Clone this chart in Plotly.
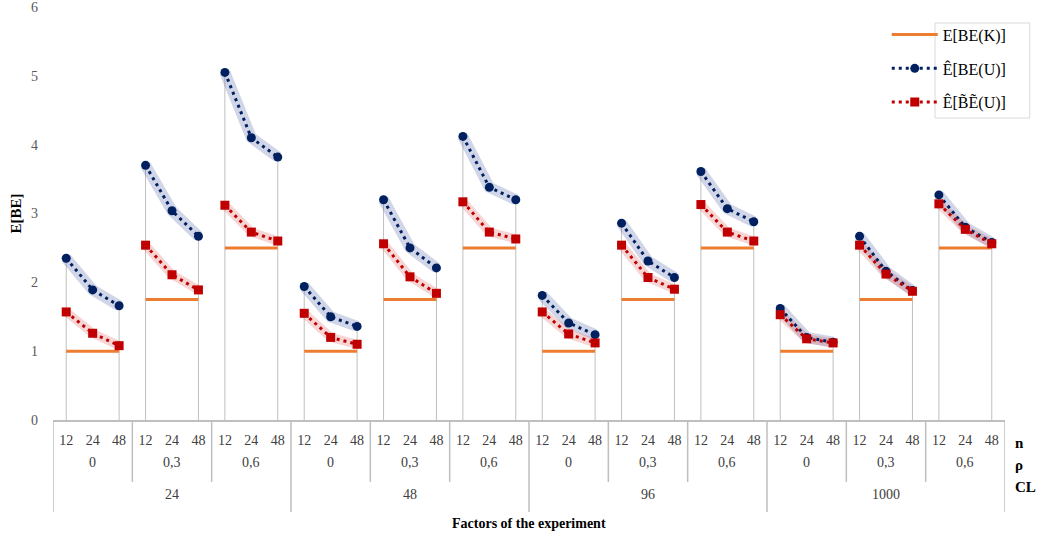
import plotly.graph_objects as go

# ---------------- data ----------------
n_values = ["12", "24", "48"]
rho_values = ["0", "0,3", "0,6"]
cl_values = ["24", "48", "96", "1000"]
y_ticks = [0, 1, 2, 3, 4, 5, 6]

# E[BE(K)] per (CL, rho) group
ebe_k = [1.0, 1.75, 2.5, 1.0, 1.75, 2.5, 1.0, 1.75, 2.5, 1.0, 1.75, 2.5]

# Ê[BE(U)] : 12 groups x 3 n-values
ebe_u = [
    [2.35, 1.89, 1.66], [3.70, 3.04, 2.67], [5.05, 4.10, 3.82],
    [1.94, 1.50, 1.36], [3.20, 2.50, 2.21], [4.12, 3.38, 3.20],
    [1.81, 1.41, 1.24], [2.86, 2.31, 2.07], [3.61, 3.07, 2.88],
    [1.62, 1.20, 1.13], [2.67, 2.16, 1.88], [3.27, 2.80, 2.58],
]
# Ê[B~E~(U)]
ebe_u_corr = [
    [1.57, 1.26, 1.08], [2.54, 2.11, 1.89], [3.12, 2.73, 2.60],
    [1.55, 1.20, 1.10], [2.56, 2.08, 1.84], [3.17, 2.73, 2.63],
    [1.57, 1.25, 1.12], [2.54, 2.07, 1.90], [3.13, 2.73, 2.60],
    [1.53, 1.18, 1.12], [2.54, 2.12, 1.87], [3.14, 2.77, 2.56],
]

# ---------------- build series ----------------
ng = len(ebe_k)
nn = len(n_values)


def seg(values_per_group):
    xs, ys = [], []
    for g, vals in enumerate(values_per_group):
        for j, v in enumerate(vals):
            xs.append(g * nn + j)
            ys.append(v)
        xs.append(None)
        ys.append(None)
    return xs, ys


bx, by = seg(ebe_u)
rx, ry = seg(ebe_u_corr)
kx, ky = seg([[k] * nn for k in ebe_k])

# drop lines from 0 to the top point at first/last n of each group
dx, dy = [], []
for g in range(ng):
    for j in (0, nn - 1):
        top = max(ebe_u[g][j], ebe_u_corr[g][j])
        dx += [g * nn + j, g * nn + j, None]
        dy += [0, top, None]

BLUE = "#002060"
RED = "#C00000"
ORANGE = "#ED7D31"
GRID = "#BFBFBF"
FONT = "Liberation Serif"

fig = go.Figure()

fig.add_trace(go.Scatter(x=dx, y=dy, mode="lines", line=dict(color=GRID, width=1),
                         showlegend=False, hoverinfo="skip"))

# bands
fig.add_trace(go.Scatter(x=bx, y=by, mode="lines",
                         line=dict(color="rgba(68,90,160,0.25)", width=11),
                         showlegend=False, hoverinfo="skip"))
fig.add_trace(go.Scatter(x=rx, y=ry, mode="lines",
                         line=dict(color="rgba(220,80,80,0.24)", width=9),
                         showlegend=False, hoverinfo="skip"))

fig.add_trace(go.Scatter(x=kx, y=ky, mode="lines", name="E[BE(K)]",
                         line=dict(color=ORANGE, width=3), legendgroup="a"))
fig.add_trace(go.Scatter(x=bx, y=by, mode="lines+markers", name="Ê[BE(U)]",
                         line=dict(color=BLUE, width=3, dash="3px,4px"),
                         marker=dict(symbol="circle", size=9, color=BLUE),
                         legendgroup="b"))
fig.add_trace(go.Scatter(x=rx, y=ry, mode="lines+markers", name="Ê[B\u0303E\u0303(U)]",
                         line=dict(color=RED, width=3, dash="3px,4px"),
                         marker=dict(symbol="square", size=9, color=RED),
                         legendgroup="c"))

ncat = ng * nn
annotations = []
shapes = []

# rho labels
for g in range(ng):
    annotations.append(dict(x=g * nn + 1, y=-0.1041, xref="x", yref="paper",
                            xanchor="center", yanchor="middle",
                            text=rho_values[g % len(rho_values)], showarrow=False,
                            font=dict(family=FONT, size=14, color="#404040")))
# CL labels
per_cl = nn * len(rho_values)
for c, cl in enumerate(cl_values):
    annotations.append(dict(x=c * per_cl + (per_cl - 1) / 2, y=-0.1792, xref="x", yref="paper",
                            xanchor="center", yanchor="middle",
                            text=cl, showarrow=False,
                            font=dict(family=FONT, size=14, color="#404040")))

# separators
for g in range(ng + 1):
    xpos = g * nn - 0.5
    if g % len(rho_values) == 0:
        y1 = -0.2228
    else:
        y1 = -0.150
    shapes.append(dict(type="line", xref="x", yref="paper", x0=xpos, x1=xpos, y0=0, y1=y1,
                       line=dict(color=GRID, width=1.5)))

# right side level names
for txt, yy in (("n", -0.0557), ("ρ", -0.109), ("CL", -0.1622)):
    annotations.append(dict(x=1.008, y=yy, xref="paper", yref="paper", text="<b>%s</b>" % txt,
                            showarrow=False, xanchor="left", yanchor="middle",
                            font=dict(family=FONT, size=15, color="#000000")))

annotations.append(dict(x=0.5, y=-0.2518, xref="paper", yref="paper",
                        xanchor="center", yanchor="middle",
                        text="<b>Factors of the experiment</b>", showarrow=False,
                        font=dict(family=FONT, size=14, color="#000000")))
annotations.append(dict(x=-0.0399, y=0.5, xref="paper", yref="paper", text="<b>E[BE]</b>",
                        xanchor="center", yanchor="middle",
                        showarrow=False, textangle=-90,
                        font=dict(family=FONT, size=15, color="#000000")))

# legend text box
shapes.append(dict(type="rect", xref="paper", yref="paper", x0=0.9265, x1=1.026, y0=0.7312, y1=0.9613,
                   line=dict(color="#D9D9D9", width=1), fillcolor="rgba(0,0,0,0)"))

fig.update_layout(
    width=1043, height=542,
    margin=dict(l=53, r=38, t=7, b=122, autoexpand=False),
    plot_bgcolor="white", paper_bgcolor="white",
    font=dict(family=FONT, size=14, color="#595959"),
    xaxis=dict(range=[-0.5, ncat - 0.5], tickmode="array",
               tickvals=list(range(ncat)),
               ticktext=[n_values[i % nn] for i in range(ncat)],
               showgrid=False, zeroline=False, showline=True, linecolor=GRID, linewidth=1.5,
               ticks="", ticklabelstandoff=6, automargin=False,
               tickfont=dict(family=FONT, size=14, color="#404040")),
    yaxis=dict(range=[0, 6], tickmode="array", tickvals=y_ticks,
               showgrid=False, zeroline=False, showline=False,
               ticks="", ticklabelstandoff=14, automargin=False,
               ticklabeloverflow="allow",
               tickfont=dict(family=FONT, size=14, color="#595959")),
    showlegend=True,
    legend=dict(xref="container", yref="container", x=0.8502, y=0.9675,
                xanchor="left", yanchor="top",
                bgcolor="rgba(255,255,255,0)", borderwidth=0,
                itemwidth=46, tracegroupgap=10,
                font=dict(family=FONT, size=16, color="#000000")),
    annotations=annotations,
    shapes=shapes,
)

# remove the default 8px page margin so the figure fills the window exactly
fig.write_html("out.html", config={"displayModeBar": False},
               post_script="document.body.style.margin='0';")
